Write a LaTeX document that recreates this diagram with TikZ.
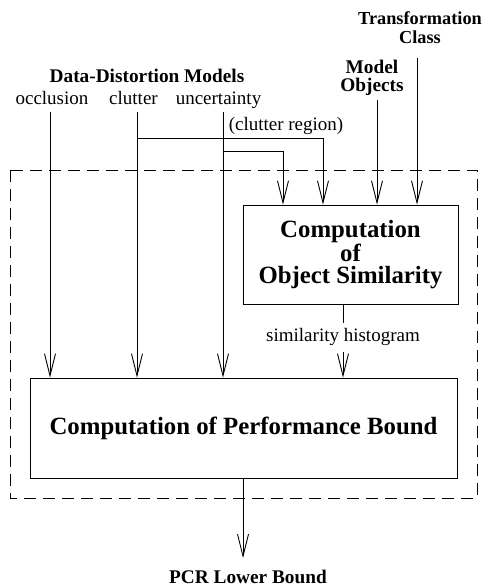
\documentclass[tikz,border=0pt]{standalone}
\usepackage{fontspec}
\setmainfont{Liberation Serif}
\usetikzlibrary{arrows.meta}
\begin{document}
\begin{tikzpicture}[x=1pt,y=-1pt,line width=0.9pt,
  flow/.style={-{Straight Barb[length=22pt,width=11pt,line width=0.9pt]}},
  small/.style={font=\fontsize{19}{19}\selectfont, inner sep=0pt},
  head/.style={font=\fontsize{19.3}{19}\selectfont\bfseries, inner sep=0pt},
  bigbox/.style={draw, rectangle, inner sep=0pt, align=center,
    font=\fontsize{24.8}{22}\selectfont\bfseries}]
\useasboundingbox (0,0) rectangle (484,586);

% enclosing dashed frame
\draw[dash pattern=on 12pt off 7pt] (10,170) rectangle (477,498);

% processing boxes
\node[bigbox, minimum width=215pt, minimum height=99pt] (sim) at (350.5,254.5)
  {Computation\\of\\Object Similarity};
\node[bigbox, minimum width=427pt, minimum height=100pt] (perf) at (243.5,428)
  {Computation of Performance Bound};

% input labels (multi-line labels are anchored at the baseline of their last line)
\node[head, anchor=base] (ddm) at (147,82) {Data-Distortion Models};
\node[small, anchor=base] (occ) at (52,104) {occlusion};
\node[small, anchor=base] (clu) at (133.5,104) {clutter};
\node[small, anchor=base] (unc) at (218.5,104) {uncertainty};
\node[small, anchor=base] (creg) at (286,130) {(clutter region)};
\node[head, anchor=base, align=center] (mobj) at (372,92) {Model\\[-1pt]Objects};
\node[head, anchor=base, align=center, font=\fontsize{18.3}{19}\selectfont\bfseries]
  (tcls) at (420,44) {Transformation\\Class};
\node[head, anchor=base] (pcr) at (248,583) {PCR Lower Bound};

% start points of the input lines
\coordinate (occ-s) at (50,112);
\coordinate (clu-s) at (137,112);
\coordinate (unc-s) at (223,112);
\coordinate (mobj-s) at (377,100);
\coordinate (tcls-s) at (417,58);
\coordinate (clu-b) at (137,138);
\coordinate (unc-b) at (223,151);
\coordinate (clu-t) at (323,138);
\coordinate (unc-t) at (283,151);
\coordinate (out-e) at (243,558);

% distortion models into the bound computation
\draw[flow] (occ-s) -- (occ-s |- perf.north);
\draw[flow] (clu-s) -- (clu-s |- perf.north);
\draw[flow] (unc-s) -- (unc-s |- perf.north);

% branches into the similarity computation
\draw[flow] (clu-b) -- (clu-t) -- (clu-t |- sim.north);
\draw[flow] (unc-b) -- (unc-t) -- (unc-t |- sim.north);
\draw[flow] (mobj-s) -- (mobj-s |- sim.north);
\draw[flow] (tcls-s) -- (tcls-s |- sim.north);

% similarity histogram
\draw[flow] (sim.south -| 343,0) -- node[small, fill=white, inner ysep=6pt, pos=0.45] (hist) {similarity histogram} (perf.north -| 343,0);

% output
\draw[flow] (perf.south -| out-e) -- (out-e);
\end{tikzpicture}
\end{document}
